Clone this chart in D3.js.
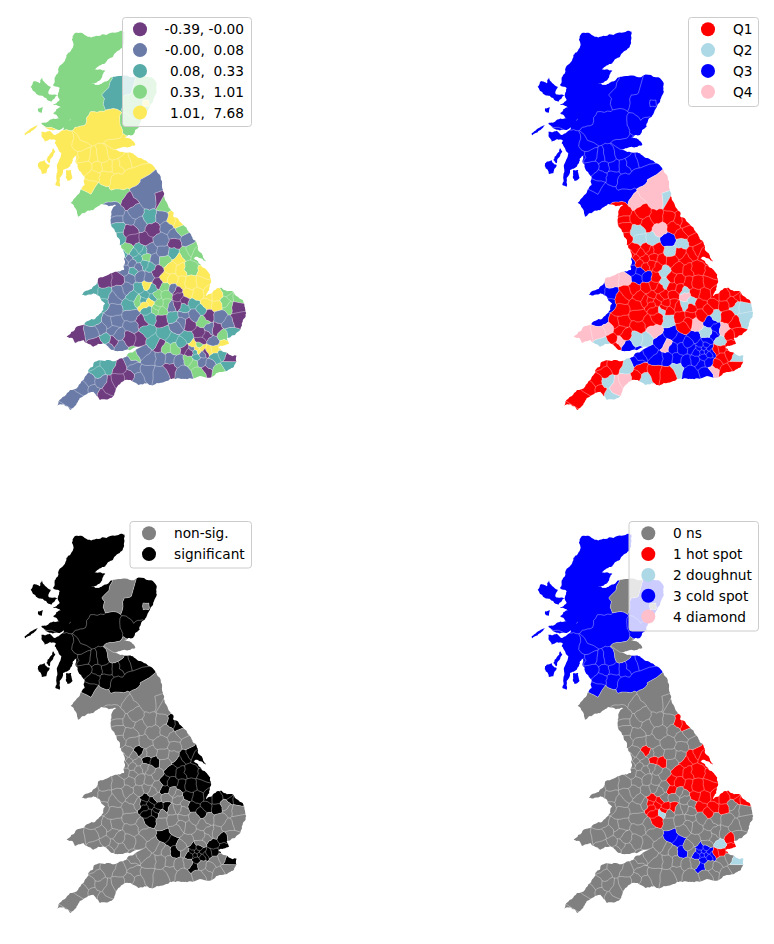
<!DOCTYPE html>
<html>
<head>
<meta charset="utf-8">
<script src="https://cdn.jsdelivr.net/npm/d3@7"></script>
<style>
  body { margin: 0; background: #fff; }
  text { font-family: "DejaVu Sans", sans-serif; font-size: 13.7px; fill: #000; white-space: pre; }
</style>
</head>
<body>
<div id="chart"></div>
<script>
// map grid units: east, south (3 units = 1 px)
const mainland = [
  [74,-545],[104,-540],[144,-537],[194,-547],[224,-550],[222,-525],[209,-495],[189,-475],[166,-455],[134,-437],
  [166,-433],[154,-410],[122,-395],[144,-390],[172,-402],[194,-415],[244,-413],[304,-413],[318,-400],[316,-360],
  [299,-323],[284,-295],[269,-265],[249,-240],[222,-233],[244,-227],[256,-210],[224,-205],[194,-195],[229,-187],
  [249,-185],[279,-167],[299,-155],[324,-125],[339,-75],[349,-40],[369,-10],[370,5],[395,25],[420,55],[440,85],
  [455,115],[468,140],[440,125],[430,130],[445,143],[470,165],[483,195],[478,225],[468,243],[490,228],[515,218],
  [550,230],[578,255],[586,285],[578,320],[555,360],[530,370],[537,386],[505,397],[515,408],[560,422],
  [552,455],[520,470],[480,488],[420,490],[385,490],[355,497],[310,510],[290,505],[265,510],[225,495],[205,510],
  [185,548],[150,555],[130,530],[105,540],[80,565],[60,585],[40,568],[22,572],[25,560],[60,525],[100,495],[115,465],[135,440],[175,435],
  [220,430],[235,415],[280,395],[225,405],[195,408],[175,395],[160,385],[130,395],[100,375],[75,385],[68,370],
  [50,365],[65,350],[100,330],[135,312],[160,285],[165,265],[150,245],[130,235],[95,240],[125,222],[145,190],
  [195,170],[222,165],[222,130],[215,100],[210,75],[185,35],[182,5],[199,-30],[154,-33],[129,-15],[109,-10],
  [84,5],[76,-20],[62,-37],[82,-60],[104,-90],[104,-115],[84,-140],[79,-180],[69,-170],[59,-145],[39,-135],
  [29,-85],[16,-90],[22,-135],[34,-185],[24,-200],[14,-215],[22,-240],[64,-290],[29,-255],[-11,-260],[-26,-275],
  [-6,-280],[29,-290],[9,-305],[34,-323],[9,-330],[29,-345],[24,-363],[29,-380],[9,-390],[16,-415],[39,-455],[49,-480],[69,-505]
];
const islands = [
  [[-58,-385],[-51,-400],[-31,-395],[-24,-413],[2,-385],[-4,-363],[22,-360],[4,-340],[-11,-350],[-36,-360],[-46,-370]],
  [[-36,-320],[-21,-323],[-24,-307],[-34,-310]],
  [[-76,-245],[-56,-260],[-36,-270],[-41,-263],[-66,-245],[-74,-239]],
  [[-26,-250],[-1,-253],[14,-240],[26,-245],[19,-225],[-1,-227],[-16,-220],[-24,-233]],
  [[-36,-155],[-16,-165],[-1,-150],[-11,-125],[-24,-123],[-34,-140]],
  [[-11,-165],[9,-200],[16,-190],[-1,-155]],
  [[49,-135],[64,-135],[67,-110],[52,-103]]
];

// east, south, local value, quadrant, significant, district name if it takes several sites
const districts = [
  // scotland
  [124,-485,.6,3,1,"hl"],[74,-435,.6,3,1,"hl"],[104,-385,.6,3,1,"hl"],[54,-335,.6,3,1,"hl"],[134,-335,.6,3,1,"hl"],
  [94,-300,.6,3,1,"hl"],[49,-295,.6,3,1,"hl"],[-36,-375,.6,3,1,"hl"],[4,-285,.6,3,1,"hl"],[-30,-320,.6,3,1,"hl"],[150,-395,.6,3,1,"hl"],
  [189,-370,.2,3,0,"mo"],[224,-395,.2,3,0,"mo"],[195,-340,.2,3,0,"mo"],
  [288,-335,2.5,3,0],
  [288,-355,.6,3,1,"ab"],[270,-335,.6,3,1,"ab"],[288,-315,.6,3,1,"ab"],[305,-335,.6,3,1,"ab"],[274,-385,.6,3,1,"ab"],[240,-330,.6,3,1,"ab"],[255,-300,.6,3,1,"ab"],
  [235,-280,.6,3,1,"an"],[240,-255,.6,3,1,"an"],[265,-275,.6,3,1,"an"],
  [160,-255,2.5,3,1,"pk"],[135,-285,2.5,3,1,"pk"],[190,-285,2.5,3,1,"pk"],[195,-245,2.5,3,1,"pk"],[110,-240,2.5,3,1,"pk"],
  [40,-215,2.5,3,1,"ag"],[20,-165,2.5,3,1,"ag"],[-10,-240,2.5,3,1,"ag"],[-50,-255,2.5,3,1,"ag"],[-30,-155,2.5,3,1,"ag"],[40,-115,2.5,3,1,"ag"],[60,-180,2.5,3,1,"ag"],
  [90,-215,2.5,3,1],[225,-222,2.5,3,0,"fi"],[200,-212,2.5,3,0,"fi"],[190,-190,2.5,3,0],
  [104,-175,2.5,3,1],[129,-170,2.5,3,1],[154,-175,2.5,3,1],[109,-145,2.5,3,1],[139,-145,2.5,3,1],[169,-145,2.5,3,1],
  [129,-120,2.5,3,1],[169,-115,2.5,3,1],[204,-145,2.5,3,1],[224,-155,2.5,3,1],[259,-165,2.5,3,1],[119,-90,2.5,3,1],
  [244,-115,2.5,3,1,"bo"],[204,-100,2.5,3,1,"bo"],[274,-135,2.5,3,1,"bo"],
  [150,-70,.6,3,0,"dg"],[210,-55,.6,3,0,"dg"],[100,-45,.6,3,0,"dg"],[75,-20,.6,3,0,"dg"],
  // north of england
  [310,-90,.04,4,0,"nb"],[275,-70,.04,4,0,"nb"],[300,-110,.04,4,0,"nb"],[300,-45,.04,4,0,"nb"],
  [235,-38,-.1,4,0],[329,-45,-.1,2,0],[345,-30,.6,1,0],[200,-10,.04,1,0],[255,-5,.04,1,0],
  [200,15,.04,1,0],[240,10,.04,1,0],[205,38,.2,1,0],[205,65,.2,1,0],[240,48,-.1,2,0],[270,25,.04,1,0],[310,40,-.1,4,0],
  [300,8,.2,1,0],[350,35,.04,1,0],[335,10,.04,1,0],[365,15,2.5,1,1],[385,22,2.5,1,1],[395,45,.6,1,0],[375,60,.04,1,0],
  [250,75,-.1,2,0],[285,75,-.1,2,0],[335,75,.04,3,0],[375,85,-.1,2,0],[410,75,.04,1,0],[425,105,.6,1,1],[405,115,.6,1,1],
  [445,125,.6,1,1],[340,110,.04,2,0],[370,115,.2,1,0],[300,105,.04,1,0],[268,100,.2,1,1],[235,105,.6,1,0],[235,130,.04,1,0],
  [262,132,.2,1,0],[290,128,.6,1,1],[312,133,.04,1,1],[345,135,.6,1,0],[385,130,2.5,1,1],
  [250,115,.2,1,0],[280,108,.2,1,0],[222,120,.2,1,0],[250,145,.04,1,0],[285,148,.2,1,0],[222,138,.04,3,0],[250,170,.2,3,0],
  // lincolnshire and the east midlands
  [420,160,.6,1,1],[465,170,2.5,1,1],[395,165,2.5,1,1],[365,160,2.5,1,1],[345,190,2.5,1,1],[365,195,2.5,1,1],
  [420,205,2.5,1,1],[460,200,2.5,1,1],[395,205,2.5,1,1],[300,155,.2,1,0],[320,170,-.1,2,0],[325,205,-.1,2,0],
  [265,155,.04,1,0],[225,165,.04,3,0],[240,190,.04,3,0],[270,185,.04,3,0],[295,185,.04,1,0],[290,212,2.5,1,0],
  [345,215,.6,1,1],[305,222,.2,1,0],[270,218,.2,1,0],[415,235,2.5,1,1],[370,222,.04,1,0],
  // wales and the west midlands
  [165,195,-.1,4,0],[205,195,-.1,4,0],[120,225,.2,3,0],[165,238,.2,3,0],[210,230,.04,1,0],[250,245,.2,1,0],
  [285,240,.2,1,1],[300,262,2.5,1,1],[325,265,.6,1,1],[350,268,.6,1,1],[315,285,.6,2,1],[295,285,.2,1,1],[300,305,.2,1,1],
  [280,255,.2,1,1],[310,248,.2,1,1],[285,270,2.5,1,1],[320,278,.6,1,1],[335,288,.6,1,0],
  [320,240,.6,1,0],[350,240,.6,1,0],[380,228,-.1,2,0],[385,245,-.1,4,0],[405,258,-.1,2,0],[382,270,-.1,2,0],
  [240,270,.2,1,0],[265,255,.6,1,0],[158,262,.2,3,0],[135,315,.2,3,0],[190,285,.04,1,0],[195,320,.04,1,0],
  [130,350,.04,4,0],[150,340,.04,4,0],[80,355,-.1,4,0],[245,300,.04,1,0],[275,322,-.1,1,0],[245,335,.04,1,0],
  [290,350,.2,4,0],[335,312,-.1,2,0],[190,250,.04,1,0],[230,220,.04,1,0],[175,322,.04,1,0],[165,375,.2,1,0],[205,360,.04,1,0],[190,345,.04,1,0],
  // norfolk, suffolk, essex
  [440,240,2.5,1,1],[480,240,2.5,1,1],[430,265,.2,1,1],[470,270,2.5,1,1],[500,270,2.5,1,1],[530,228,.6,1,1],[565,245,.6,1,1],
  [500,245,2.5,1,1],[545,240,.6,1,1],[455,285,.2,1,1],[525,262,.6,1,0],
  [535,275,.6,2,0],[560,278,-.1,2,0],[370,305,.2,1,0],[400,300,.04,1,0],[435,300,.04,1,0],[475,300,-.1,2,0],[510,305,.04,1,0],
  [560,315,-.1,2,0],[415,325,-.1,4,0],[380,335,.04,1,0],[460,318,.6,3,0],[450,355,-.1,2,0],[480,345,.04,3,0],[500,345,-.1,4,0],
  [535,325,.04,1,0],[540,355,.2,1,0],[520,362,.6,1,1],[490,380,.04,2,1],[365,275,.04,1,0],[400,278,.2,1,0],[395,322,.04,1,0],[470,360,-.1,3,0],
  // south
  [345,355,.2,3,1],[365,370,.2,3,1],[375,400,.6,3,1],[350,400,.6,3,0],[330,392,-.1,4,0],[410,370,.2,3,0],[450,380,-.1,3,0],
  [440,400,2.5,3,1],[420,410,-.1,3,1],[455,415,.04,3,1],[430,445,.6,3,1],[440,425,.2,3,1],[490,400,2.5,1,1],[520,392,2.5,1,1],[475,405,2.5,1,1],
  [430,390,2.5,3,1],[447,390,.6,3,1],[456,401,2.5,3,1],[427,400,.04,3,1],[436,412,.2,3,1],[448,410,2.5,3,1],[465,410,-.1,3,1],
  [405,400,-.1,3,0],[415,435,.6,3,0],[455,440,.04,3,0],[495,430,.2,1,0],[535,430,-.1,2,1],[530,455,.2,1,0],[505,465,.6,1,0],
  [470,465,-.1,4,0],[445,475,.6,3,0],[400,470,.04,3,0],[360,460,-.1,2,0],[360,430,.04,3,0],[300,430,.04,3,0],[280,410,.04,3,0],
  [240,440,.04,3,0],[250,420,.6,3,0],[270,372,-.1,2,0],[310,380,.2,3,0],[235,370,-.1,2,0],[190,380,-.1,4,0],[145,385,-.1,2,0],
  [175,395,.04,1,0],[210,392,.04,3,0],[295,470,.04,1,0],[240,480,-.1,1,0],[210,458,-.1,2,0],[210,495,-.1,4,0],[260,490,.04,2,0],
  [170,450,.2,1,0],[140,470,.2,1,0],[100,520,.04,1,0],[150,500,.04,2,0],[175,510,-.1,4,0],[160,540,-.1,2,0],[60,570,.04,1,0],[330,475,.04,1,0],
  [395,385,.2,3,0],[330,430,.04,3,0],[390,440,.04,3,0],[520,420,.2,1,0],[480,450,.04,1,0],[120,500,.04,1,0],[80,545,.04,1,0],[130,450,.2,1,0],
  [250,465,.04,1,0],[130,525,.04,1,0]
];

const valueBreaks = [-0.001, 0.08, 0.33, 1.01];
const valueLabels = ["-0.39, -0.00", "-0.00,  0.08", " 0.08,  0.33", " 0.33,  1.01", " 1.01,  7.68"];
const valueColors = ["#703c80", "#6a7ba8", "#56aba9", "#85d785", "#fdea5b"];
const quadLabels = ["Q1", "Q2", "Q3", "Q4"];
const quadColors = ["red", "lightblue", "blue", "pink"];
const sigLabels = ["non-sig.", "significant"];
const sigColors = ["grey", "black"];
const clusterLabels = ["0 ns", "1 hot spot", "2 doughnut", "3 cold spot", "4 diamond"];
const clusterColors = ["grey", "red", "lightblue", "blue", "pink"];

const width = 774, height = 944;
const voronoi = d3.Delaunay.from(districts, d => d[0], d => d[1]).voronoi([-150, -620, 680, 650]);
const cells = districts.map((d, i) => voronoi.cellPolygon(i));
const nameOf = i => districts[i][5] || "d" + i;

// real boundaries are not straight: bend an edge the same way whichever side asks for it
function bend(a, b, depth = 2) {
  if (depth === 0 || Math.hypot(b[0] - a[0], b[1] - a[1]) < 5) return [b];
  const [p, q] = a.join() < b.join() ? [a, b] : [b, a];
  const s = Math.sin(p[0] * 12.9898 + p[1] * 37.719 + q[1] * 78.233) * 43758.5;
  const t = (s - Math.floor(s) - 0.5) * 0.3;
  const m = [(a[0] + b[0]) / 2 + t * (q[1] - p[1]), (a[1] + b[1]) / 2 - t * (q[0] - p[0])];
  return [...bend(a, m, depth - 1), ...bend(m, b, depth - 1)];
}
const bendRing = r => r.flatMap((p, i) => bend(p, r[(i + 1) % r.length], 3));
const bendCell = c => c.slice(1).flatMap((p, i) => bend(c[i], p));
const coast = [mainland, ...islands].map(bendRing);
const shapes = cells.map(bendCell);

// borders only between sites of different districts
const borders = [];
districts.forEach((d, i) => {
  for (const j of voronoi.neighbors(i)) {
    if (j <= i || nameOf(i) === nameOf(j)) continue;
    const other = new Set(cells[j].map(p => p.join()));
    const shared = cells[i].filter((p, k) => k > 0 && other.has(p.join()));
    if (shared.length === 2) borders.push([shared[0], ...bend(shared[0], shared[1])]);
  }
});

const valueColor = d3.scaleThreshold().domain(valueBreaks).range(valueColors);
const panels = [
  { left: 0, top: 0, labels: valueLabels, colors: valueColors, fill: d => valueColor(d[2]),
    box: [122, 17, 251, 126], markX: 140, textX: 244, anchor: "end", rows: 29.3, step: 20.8 },
  { left: 507, top: 0, labels: quadLabels, colors: quadColors, fill: d => quadColors[d[3] - 1],
    box: [688, 17, 758, 106], markX: 708, textX: 733, anchor: "start", rows: 29.3, step: 20.8 },
  { left: 0, top: 503, labels: sigLabels, colors: sigColors, fill: d => sigColors[d[4]],
    box: [129.5, 521, 251, 567.5], markX: 149, textX: 174, anchor: "start", rows: 533.3, step: 20.8 },
  { left: 507, top: 503, labels: clusterLabels, colors: clusterColors, fill: d => clusterColors[d[4] ? d[3] : 0],
    box: [628.5, 521, 758, 630.5], markX: 648.3, textX: 673, anchor: "start", rows: 533.3, step: 20.8 }
];

const svg = d3.select("#chart").append("svg")
  .attr("width", width)
  .attr("height", height)
  .style("display", "block");

panels.forEach((panel, n) => {
  const x = d3.scaleLinear().domain([0, 600]).range([50 + panel.left, 250 + panel.left]);
  const y = d3.scaleLinear().domain([0, 600]).range([215 + panel.top, 415 + panel.top]);
  const ring = d3.line().x(p => x(p[0])).y(p => y(p[1]));

  svg.append("clipPath").attr("id", "coast" + n)
    .append("path")
    .attr("d", coast.map(r => ring(r) + "Z").join(""));

  const map = svg.append("g").attr("clip-path", `url(#coast${n})`);

  // one path per colour so neighbours of a colour leave no seam
  const byColor = d3.group(districts.map((d, i) => i), i => panel.fill(districts[i]));
  byColor.forEach((ids, color) => {
    map.append("path")
      .attr("d", ids.map(i => ring(shapes[i]) + "Z").join(""))
      .attr("fill", color);
  });

  map.append("g").selectAll("path")
    .data(borders)
    .join("path")
    .attr("d", ring)
    .attr("fill", "none")
    .attr("stroke", "#fff")
    .attr("stroke-width", 0.35);

  // legend
  const legend = svg.append("g");
  legend.append("rect")
    .attr("x", panel.box[0] + 0.5)
    .attr("y", panel.box[1] + 0.5)
    .attr("width", panel.box[2] - panel.box[0])
    .attr("height", panel.box[3] - panel.box[1])
    .attr("rx", 3)
    .attr("fill", "#fff")
    .attr("fill-opacity", 0.8)
    .attr("stroke", "#ccc")
    .attr("stroke-width", 1);

  panel.labels.forEach((label, i) => {
    const rowY = panel.rows + i * panel.step;
    legend.append("circle")
      .attr("cx", panel.markX)
      .attr("cy", rowY)
      .attr("r", 7)
      .attr("fill", panel.colors[i]);
    legend.append("text")
      .attr("x", panel.textX)
      .attr("y", rowY + 5)
      .attr("text-anchor", panel.anchor)
      .text(label);
  });
});
</script>
</body>
</html>
